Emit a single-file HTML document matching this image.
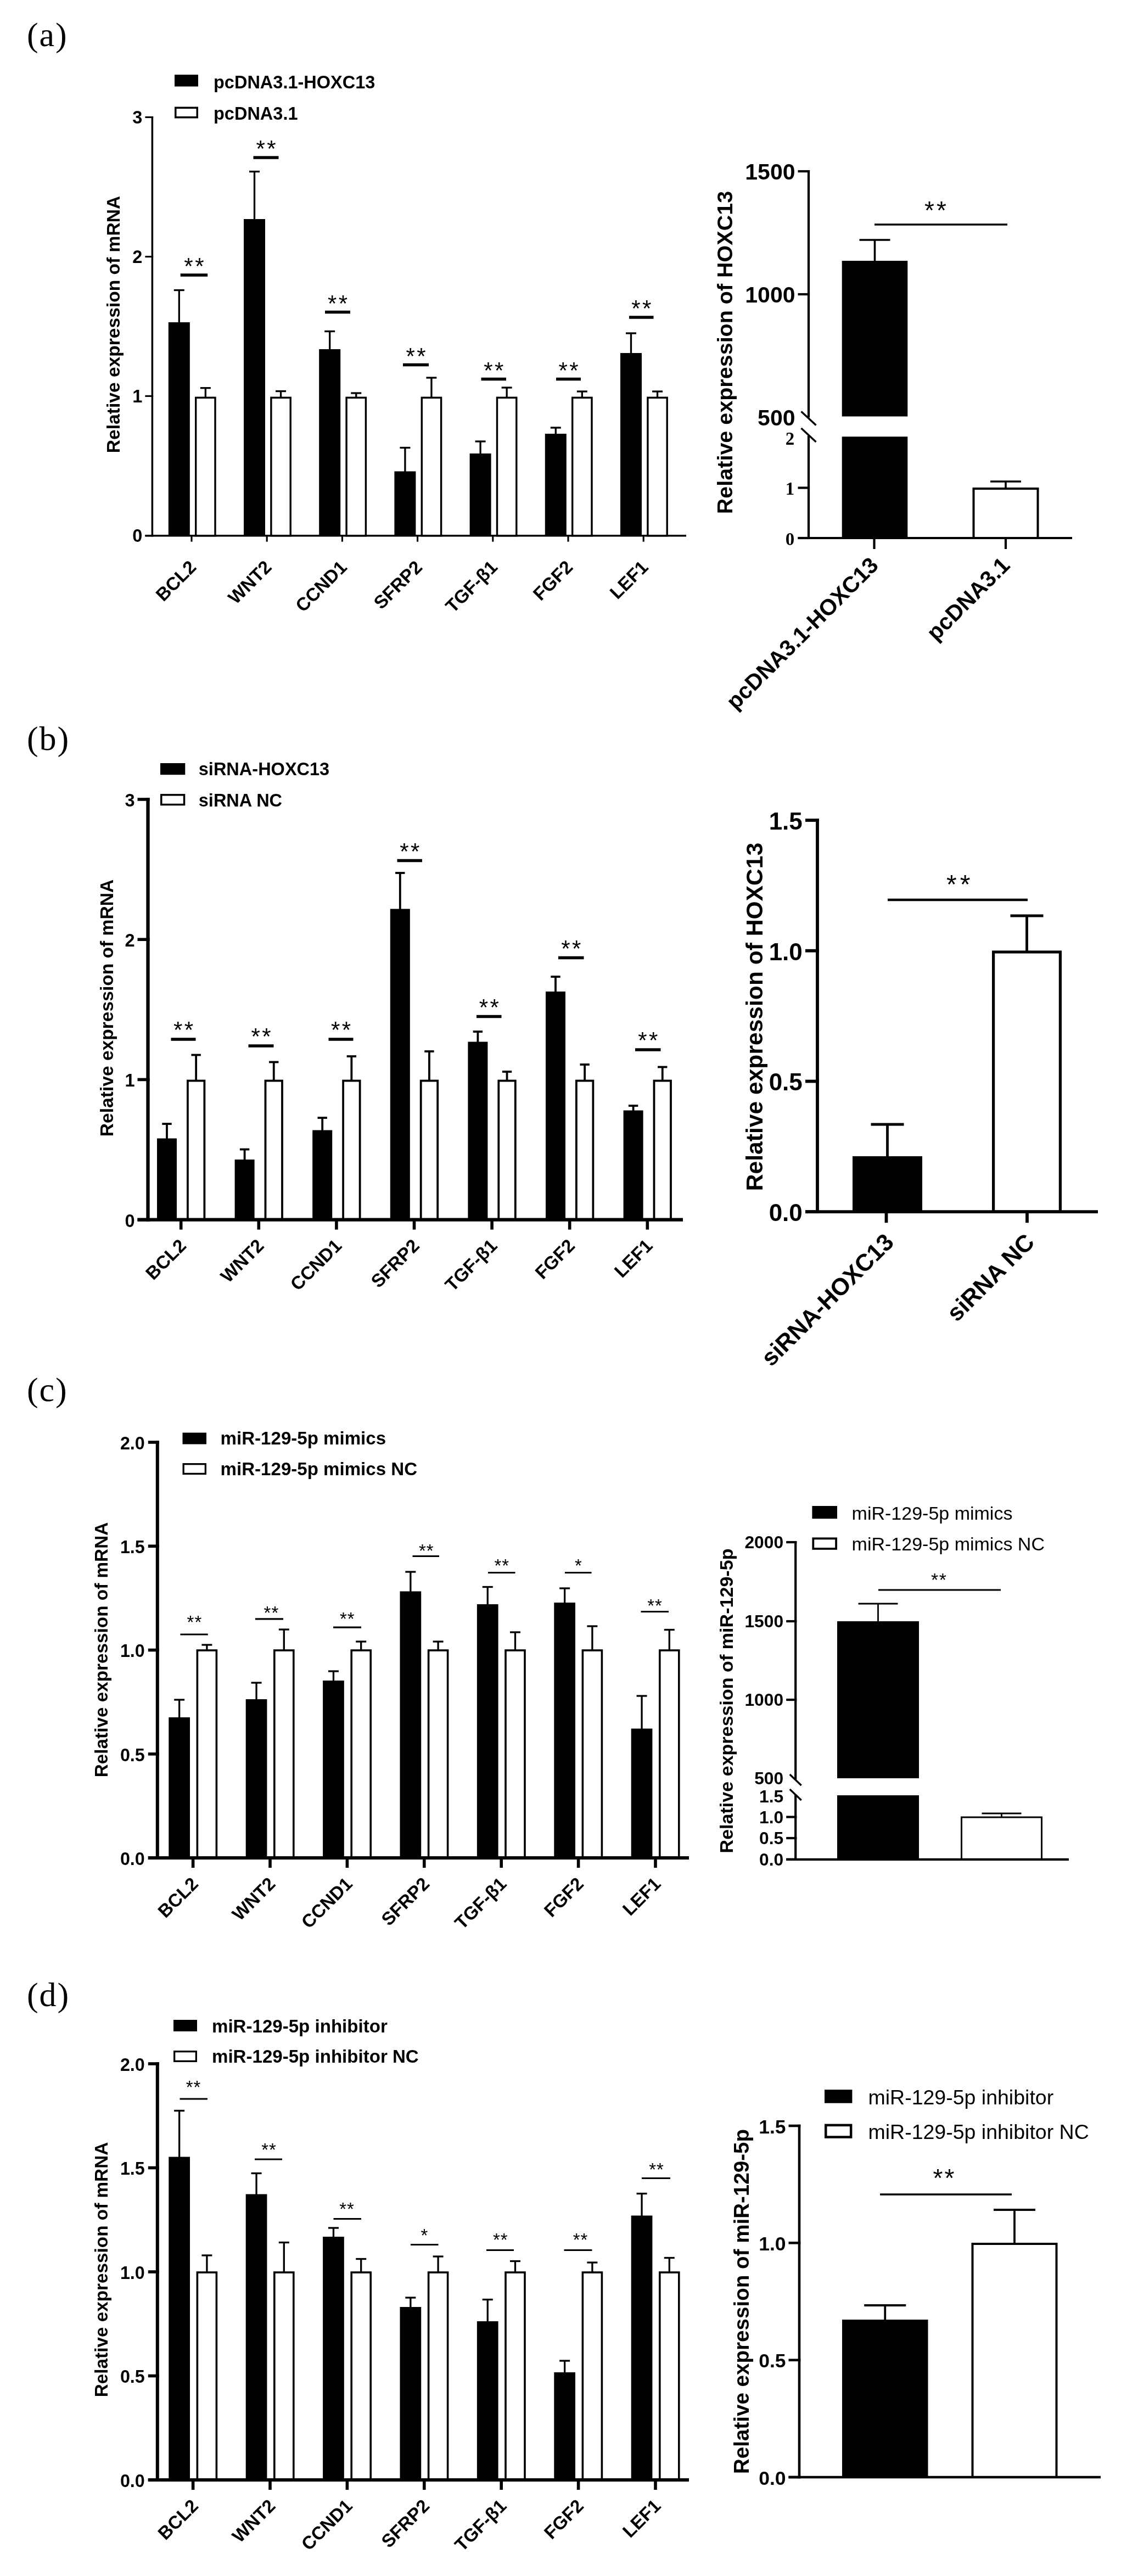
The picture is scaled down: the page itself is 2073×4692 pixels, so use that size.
<!DOCTYPE html>
<html lang="en"><head><meta charset="utf-8"><title>Figure</title>
<style>html,body{margin:0;padding:0;background:#fff}body{width:2073px;height:4692px;overflow:hidden}svg text{fill:#000}</style>
</head><body>
<svg width="2073" height="4692" viewBox="0 0 2073 4692" style="display:block;filter:blur(0.6px)" shape-rendering="geometricPrecision">
<rect width="2073" height="4692" fill="#fff"/>
<text x="49.00" y="84.20" font-family="Liberation Serif, Times New Roman, serif" font-size="62" font-weight="normal" text-anchor="start" letter-spacing="1.9">(a)</text>
<line x1="326.30" y1="528.50" x2="326.30" y2="588.00" stroke="#000" stroke-width="3.3" stroke-linecap="butt"/>
<line x1="316.80" y1="528.50" x2="335.80" y2="528.50" stroke="#000" stroke-width="3.3" stroke-linecap="butt"/>
<line x1="374.35" y1="706.70" x2="374.35" y2="725.30" stroke="#000" stroke-width="3.3" stroke-linecap="butt"/>
<line x1="364.85" y1="706.70" x2="383.85" y2="706.70" stroke="#000" stroke-width="3.3" stroke-linecap="butt"/>
<rect x="306.80" y="587.00" width="39.00" height="388.70" fill="#000"/>
<rect x="356.70" y="724.30" width="35.30" height="251.40" fill="#fff" stroke="#000" stroke-width="3.4"/>
<line x1="463.50" y1="312.50" x2="463.50" y2="400.00" stroke="#000" stroke-width="3.3" stroke-linecap="butt"/>
<line x1="454.00" y1="312.50" x2="473.00" y2="312.50" stroke="#000" stroke-width="3.3" stroke-linecap="butt"/>
<line x1="511.55" y1="712.50" x2="511.55" y2="725.30" stroke="#000" stroke-width="3.3" stroke-linecap="butt"/>
<line x1="502.05" y1="712.50" x2="521.05" y2="712.50" stroke="#000" stroke-width="3.3" stroke-linecap="butt"/>
<rect x="444.00" y="399.00" width="39.00" height="576.70" fill="#000"/>
<rect x="493.90" y="724.30" width="35.30" height="251.40" fill="#fff" stroke="#000" stroke-width="3.4"/>
<line x1="600.70" y1="603.50" x2="600.70" y2="637.00" stroke="#000" stroke-width="3.3" stroke-linecap="butt"/>
<line x1="591.20" y1="603.50" x2="610.20" y2="603.50" stroke="#000" stroke-width="3.3" stroke-linecap="butt"/>
<line x1="648.75" y1="716.00" x2="648.75" y2="725.30" stroke="#000" stroke-width="3.3" stroke-linecap="butt"/>
<line x1="639.25" y1="716.00" x2="658.25" y2="716.00" stroke="#000" stroke-width="3.3" stroke-linecap="butt"/>
<rect x="581.20" y="636.00" width="39.00" height="339.70" fill="#000"/>
<rect x="631.10" y="724.30" width="35.30" height="251.40" fill="#fff" stroke="#000" stroke-width="3.4"/>
<line x1="737.90" y1="815.50" x2="737.90" y2="859.50" stroke="#000" stroke-width="3.3" stroke-linecap="butt"/>
<line x1="728.40" y1="815.50" x2="747.40" y2="815.50" stroke="#000" stroke-width="3.3" stroke-linecap="butt"/>
<line x1="785.95" y1="688.00" x2="785.95" y2="725.30" stroke="#000" stroke-width="3.3" stroke-linecap="butt"/>
<line x1="776.45" y1="688.00" x2="795.45" y2="688.00" stroke="#000" stroke-width="3.3" stroke-linecap="butt"/>
<rect x="718.40" y="858.50" width="39.00" height="117.20" fill="#000"/>
<rect x="768.30" y="724.30" width="35.30" height="251.40" fill="#fff" stroke="#000" stroke-width="3.4"/>
<line x1="875.10" y1="804.00" x2="875.10" y2="827.00" stroke="#000" stroke-width="3.3" stroke-linecap="butt"/>
<line x1="865.60" y1="804.00" x2="884.60" y2="804.00" stroke="#000" stroke-width="3.3" stroke-linecap="butt"/>
<line x1="923.15" y1="706.00" x2="923.15" y2="725.30" stroke="#000" stroke-width="3.3" stroke-linecap="butt"/>
<line x1="913.65" y1="706.00" x2="932.65" y2="706.00" stroke="#000" stroke-width="3.3" stroke-linecap="butt"/>
<rect x="855.60" y="826.00" width="39.00" height="149.70" fill="#000"/>
<rect x="905.50" y="724.30" width="35.30" height="251.40" fill="#fff" stroke="#000" stroke-width="3.4"/>
<line x1="1012.30" y1="779.00" x2="1012.30" y2="791.00" stroke="#000" stroke-width="3.3" stroke-linecap="butt"/>
<line x1="1002.80" y1="779.00" x2="1021.80" y2="779.00" stroke="#000" stroke-width="3.3" stroke-linecap="butt"/>
<line x1="1060.35" y1="713.00" x2="1060.35" y2="725.30" stroke="#000" stroke-width="3.3" stroke-linecap="butt"/>
<line x1="1050.85" y1="713.00" x2="1069.85" y2="713.00" stroke="#000" stroke-width="3.3" stroke-linecap="butt"/>
<rect x="992.80" y="790.00" width="39.00" height="185.70" fill="#000"/>
<rect x="1042.70" y="724.30" width="35.30" height="251.40" fill="#fff" stroke="#000" stroke-width="3.4"/>
<line x1="1149.50" y1="607.00" x2="1149.50" y2="644.00" stroke="#000" stroke-width="3.3" stroke-linecap="butt"/>
<line x1="1140.00" y1="607.00" x2="1159.00" y2="607.00" stroke="#000" stroke-width="3.3" stroke-linecap="butt"/>
<line x1="1197.55" y1="713.00" x2="1197.55" y2="725.30" stroke="#000" stroke-width="3.3" stroke-linecap="butt"/>
<line x1="1188.05" y1="713.00" x2="1207.05" y2="713.00" stroke="#000" stroke-width="3.3" stroke-linecap="butt"/>
<rect x="1130.00" y="643.00" width="39.00" height="332.70" fill="#000"/>
<rect x="1179.90" y="724.30" width="35.30" height="251.40" fill="#fff" stroke="#000" stroke-width="3.4"/>
<line x1="328.70" y1="501.00" x2="378.20" y2="501.00" stroke="#000" stroke-width="5.5" stroke-linecap="butt"/>
<text x="355.20" y="499.05" font-family="Liberation Sans, Arial, Helvetica, sans-serif" font-size="42" font-weight="normal" text-anchor="middle" letter-spacing="3.5">**</text>
<line x1="461.50" y1="287.00" x2="507.50" y2="287.00" stroke="#000" stroke-width="5.5" stroke-linecap="butt"/>
<text x="486.25" y="285.05" font-family="Liberation Sans, Arial, Helvetica, sans-serif" font-size="42" font-weight="normal" text-anchor="middle" letter-spacing="3.5">**</text>
<line x1="592.00" y1="568.50" x2="638.00" y2="568.50" stroke="#000" stroke-width="5.5" stroke-linecap="butt"/>
<text x="616.75" y="566.55" font-family="Liberation Sans, Arial, Helvetica, sans-serif" font-size="42" font-weight="normal" text-anchor="middle" letter-spacing="3.5">**</text>
<line x1="734.00" y1="664.50" x2="781.00" y2="664.50" stroke="#000" stroke-width="5.5" stroke-linecap="butt"/>
<text x="759.25" y="662.55" font-family="Liberation Sans, Arial, Helvetica, sans-serif" font-size="42" font-weight="normal" text-anchor="middle" letter-spacing="3.5">**</text>
<line x1="876.50" y1="690.50" x2="922.00" y2="690.50" stroke="#000" stroke-width="5.5" stroke-linecap="butt"/>
<text x="901.00" y="688.55" font-family="Liberation Sans, Arial, Helvetica, sans-serif" font-size="42" font-weight="normal" text-anchor="middle" letter-spacing="3.5">**</text>
<line x1="1013.00" y1="690.50" x2="1058.00" y2="690.50" stroke="#000" stroke-width="5.5" stroke-linecap="butt"/>
<text x="1037.25" y="688.55" font-family="Liberation Sans, Arial, Helvetica, sans-serif" font-size="42" font-weight="normal" text-anchor="middle" letter-spacing="3.5">**</text>
<line x1="1146.00" y1="578.00" x2="1190.50" y2="578.00" stroke="#000" stroke-width="5.5" stroke-linecap="butt"/>
<text x="1170.00" y="576.05" font-family="Liberation Sans, Arial, Helvetica, sans-serif" font-size="42" font-weight="normal" text-anchor="middle" letter-spacing="3.5">**</text>
<line x1="277.40" y1="211.95" x2="277.40" y2="977.45" stroke="#000" stroke-width="3.5" stroke-linecap="butt"/>
<line x1="264.40" y1="213.50" x2="279.15" y2="213.50" stroke="#000" stroke-width="3.1" stroke-linecap="butt"/>
<text x="259.40" y="225.13" font-family="Liberation Sans, Arial, Helvetica, sans-serif" font-size="32.5" font-weight="bold" text-anchor="end">3</text>
<line x1="264.40" y1="467.50" x2="279.15" y2="467.50" stroke="#000" stroke-width="3.1" stroke-linecap="butt"/>
<text x="259.40" y="479.13" font-family="Liberation Sans, Arial, Helvetica, sans-serif" font-size="32.5" font-weight="bold" text-anchor="end">2</text>
<line x1="264.40" y1="721.40" x2="279.15" y2="721.40" stroke="#000" stroke-width="3.1" stroke-linecap="butt"/>
<text x="259.40" y="733.03" font-family="Liberation Sans, Arial, Helvetica, sans-serif" font-size="32.5" font-weight="bold" text-anchor="end">1</text>
<line x1="264.40" y1="975.70" x2="279.15" y2="975.70" stroke="#000" stroke-width="3.1" stroke-linecap="butt"/>
<text x="259.40" y="987.34" font-family="Liberation Sans, Arial, Helvetica, sans-serif" font-size="32.5" font-weight="bold" text-anchor="end">0</text>
<line x1="264.40" y1="975.70" x2="1250.00" y2="975.70" stroke="#000" stroke-width="3.5" stroke-linecap="butt"/>
<line x1="349.00" y1="975.70" x2="349.00" y2="986.70" stroke="#000" stroke-width="3.1" stroke-linecap="butt"/>
<line x1="486.20" y1="975.70" x2="486.20" y2="986.70" stroke="#000" stroke-width="3.1" stroke-linecap="butt"/>
<line x1="623.40" y1="975.70" x2="623.40" y2="986.70" stroke="#000" stroke-width="3.1" stroke-linecap="butt"/>
<line x1="760.60" y1="975.70" x2="760.60" y2="986.70" stroke="#000" stroke-width="3.1" stroke-linecap="butt"/>
<line x1="897.80" y1="975.70" x2="897.80" y2="986.70" stroke="#000" stroke-width="3.1" stroke-linecap="butt"/>
<line x1="1035.00" y1="975.70" x2="1035.00" y2="986.70" stroke="#000" stroke-width="3.1" stroke-linecap="butt"/>
<line x1="1172.20" y1="975.70" x2="1172.20" y2="986.70" stroke="#000" stroke-width="3.1" stroke-linecap="butt"/>
<text x="359.50" y="1035.20" font-family="Liberation Sans, Arial, Helvetica, sans-serif" font-size="33.5" font-weight="bold" text-anchor="end" transform="rotate(-45 359.50 1035.20)">BCL2</text>
<text x="496.70" y="1035.20" font-family="Liberation Sans, Arial, Helvetica, sans-serif" font-size="33.5" font-weight="bold" text-anchor="end" transform="rotate(-45 496.70 1035.20)">WNT2</text>
<text x="633.90" y="1035.20" font-family="Liberation Sans, Arial, Helvetica, sans-serif" font-size="33.5" font-weight="bold" text-anchor="end" transform="rotate(-45 633.90 1035.20)">CCND1</text>
<text x="771.10" y="1035.20" font-family="Liberation Sans, Arial, Helvetica, sans-serif" font-size="33.5" font-weight="bold" text-anchor="end" transform="rotate(-45 771.10 1035.20)">SFRP2</text>
<text x="908.30" y="1035.20" font-family="Liberation Sans, Arial, Helvetica, sans-serif" font-size="33.5" font-weight="bold" text-anchor="end" transform="rotate(-45 908.30 1035.20)">TGF-β1</text>
<text x="1045.50" y="1035.20" font-family="Liberation Sans, Arial, Helvetica, sans-serif" font-size="33.5" font-weight="bold" text-anchor="end" transform="rotate(-45 1045.50 1035.20)">FGF2</text>
<text x="1182.70" y="1035.20" font-family="Liberation Sans, Arial, Helvetica, sans-serif" font-size="33.5" font-weight="bold" text-anchor="end" transform="rotate(-45 1182.70 1035.20)">LEF1</text>
<rect x="318.00" y="136.00" width="43.00" height="21.50" fill="#000"/>
<text x="389.00" y="160.50" font-family="Liberation Sans, Arial, Helvetica, sans-serif" font-size="32.5" font-weight="bold" text-anchor="start">pcDNA3.1-HOXC13</text>
<rect x="319.75" y="196.25" width="39.50" height="17.50" fill="#fff" stroke="#000" stroke-width="3.5"/>
<text x="389.00" y="218.00" font-family="Liberation Sans, Arial, Helvetica, sans-serif" font-size="32.5" font-weight="bold" text-anchor="start">pcDNA3.1</text>
<text x="218.40" y="591.00" font-family="Liberation Sans, Arial, Helvetica, sans-serif" font-size="33.6" font-weight="bold" text-anchor="middle" transform="rotate(-90 218.40 591.00)">Relative expression of mRNA</text>
<line x1="1593.50" y1="437.00" x2="1593.50" y2="476.00" stroke="#000" stroke-width="3.6" stroke-linecap="butt"/>
<line x1="1565.50" y1="437.00" x2="1621.50" y2="437.00" stroke="#000" stroke-width="3.6" stroke-linecap="butt"/>
<line x1="1832.00" y1="877.00" x2="1832.00" y2="891.00" stroke="#000" stroke-width="3.6" stroke-linecap="butt"/>
<line x1="1804.00" y1="877.00" x2="1860.00" y2="877.00" stroke="#000" stroke-width="3.6" stroke-linecap="butt"/>
<rect x="1533.70" y="475.00" width="119.60" height="505.00" fill="#000"/>
<rect x="1773.50" y="890.00" width="117.00" height="90.00" fill="#fff" stroke="#000" stroke-width="4"/>
<line x1="1593.00" y1="409.00" x2="1835.00" y2="409.00" stroke="#000" stroke-width="3.6" stroke-linecap="butt"/>
<text x="1706.00" y="398.90" font-family="Liberation Sans, Arial, Helvetica, sans-serif" font-size="46" font-weight="normal" text-anchor="middle" letter-spacing="4">**</text>
<rect x="1532.70" y="758.50" width="121.60" height="36.80" fill="#fff"/>
<line x1="1473.00" y1="309.90" x2="1473.00" y2="760.50" stroke="#000" stroke-width="4.2" stroke-linecap="butt"/>
<line x1="1473.00" y1="793.30" x2="1473.00" y2="982.10" stroke="#000" stroke-width="4.2" stroke-linecap="butt"/>
<line x1="1459.50" y1="749.50" x2="1486.50" y2="774.50" stroke="#000" stroke-width="3.4" stroke-linecap="butt"/>
<line x1="1459.50" y1="780.00" x2="1486.50" y2="805.00" stroke="#000" stroke-width="3.4" stroke-linecap="butt"/>
<line x1="1453.50" y1="312.00" x2="1475.10" y2="312.00" stroke="#000" stroke-width="4.2" stroke-linecap="butt"/>
<text x="1448.50" y="326.68" font-family="Liberation Sans, Arial, Helvetica, sans-serif" font-size="41" font-weight="bold" text-anchor="end">1500</text>
<line x1="1453.50" y1="536.00" x2="1475.10" y2="536.00" stroke="#000" stroke-width="4.2" stroke-linecap="butt"/>
<text x="1448.50" y="550.68" font-family="Liberation Sans, Arial, Helvetica, sans-serif" font-size="41" font-weight="bold" text-anchor="end">1000</text>
<text x="1448.50" y="774.68" font-family="Liberation Sans, Arial, Helvetica, sans-serif" font-size="41" font-weight="bold" text-anchor="end">500</text>
<text x="1447.20" y="809.54" font-family="Liberation Serif, Times New Roman, serif" font-size="33" font-weight="bold" text-anchor="end">2</text>
<line x1="1453.50" y1="888.50" x2="1475.10" y2="888.50" stroke="#000" stroke-width="4.2" stroke-linecap="butt"/>
<text x="1447.20" y="901.04" font-family="Liberation Serif, Times New Roman, serif" font-size="33" font-weight="bold" text-anchor="end">1</text>
<line x1="1453.50" y1="980.00" x2="1475.10" y2="980.00" stroke="#000" stroke-width="4.2" stroke-linecap="butt"/>
<text x="1447.20" y="992.54" font-family="Liberation Serif, Times New Roman, serif" font-size="33" font-weight="bold" text-anchor="end">0</text>
<line x1="1453.50" y1="980.00" x2="1953.00" y2="980.00" stroke="#000" stroke-width="4.2" stroke-linecap="butt"/>
<line x1="1592.50" y1="980.00" x2="1592.50" y2="1000.00" stroke="#000" stroke-width="4.2" stroke-linecap="butt"/>
<line x1="1832.00" y1="980.00" x2="1832.00" y2="1000.00" stroke="#000" stroke-width="4.2" stroke-linecap="butt"/>
<text x="1602.50" y="1032.00" font-family="Liberation Sans, Arial, Helvetica, sans-serif" font-size="41" font-weight="bold" text-anchor="end" transform="rotate(-45 1602.50 1032.00)">pcDNA3.1-HOXC13</text>
<text x="1842.00" y="1032.00" font-family="Liberation Sans, Arial, Helvetica, sans-serif" font-size="41" font-weight="bold" text-anchor="end" transform="rotate(-45 1842.00 1032.00)">pcDNA3.1</text>
<text x="1334.38" y="642.00" font-family="Liberation Sans, Arial, Helvetica, sans-serif" font-size="39.5" font-weight="bold" text-anchor="middle" transform="rotate(-90 1334.38 642.00)">Relative expression of HOXC13</text>
<text x="49.00" y="1365.50" font-family="Liberation Serif, Times New Roman, serif" font-size="62" font-weight="normal" text-anchor="start" letter-spacing="1.9">(b)</text>
<line x1="304.00" y1="2047.00" x2="304.00" y2="2074.50" stroke="#000" stroke-width="3.8" stroke-linecap="butt"/>
<line x1="295.30" y1="2047.00" x2="312.70" y2="2047.00" stroke="#000" stroke-width="3.8" stroke-linecap="butt"/>
<line x1="357.15" y1="1921.50" x2="357.15" y2="1969.50" stroke="#000" stroke-width="3.8" stroke-linecap="butt"/>
<line x1="348.45" y1="1921.50" x2="365.85" y2="1921.50" stroke="#000" stroke-width="3.8" stroke-linecap="butt"/>
<rect x="286.00" y="2073.50" width="36.00" height="148.10" fill="#000"/>
<rect x="341.90" y="1968.50" width="30.50" height="253.10" fill="#fff" stroke="#000" stroke-width="3.8"/>
<line x1="445.60" y1="2093.50" x2="445.60" y2="2113.00" stroke="#000" stroke-width="3.8" stroke-linecap="butt"/>
<line x1="436.90" y1="2093.50" x2="454.30" y2="2093.50" stroke="#000" stroke-width="3.8" stroke-linecap="butt"/>
<line x1="498.75" y1="1934.50" x2="498.75" y2="1969.50" stroke="#000" stroke-width="3.8" stroke-linecap="butt"/>
<line x1="490.05" y1="1934.50" x2="507.45" y2="1934.50" stroke="#000" stroke-width="3.8" stroke-linecap="butt"/>
<rect x="427.60" y="2112.00" width="36.00" height="109.60" fill="#000"/>
<rect x="483.50" y="1968.50" width="30.50" height="253.10" fill="#fff" stroke="#000" stroke-width="3.8"/>
<line x1="587.20" y1="2036.00" x2="587.20" y2="2059.50" stroke="#000" stroke-width="3.8" stroke-linecap="butt"/>
<line x1="578.50" y1="2036.00" x2="595.90" y2="2036.00" stroke="#000" stroke-width="3.8" stroke-linecap="butt"/>
<line x1="640.35" y1="1924.00" x2="640.35" y2="1969.50" stroke="#000" stroke-width="3.8" stroke-linecap="butt"/>
<line x1="631.65" y1="1924.00" x2="649.05" y2="1924.00" stroke="#000" stroke-width="3.8" stroke-linecap="butt"/>
<rect x="569.20" y="2058.50" width="36.00" height="163.10" fill="#000"/>
<rect x="625.10" y="1968.50" width="30.50" height="253.10" fill="#fff" stroke="#000" stroke-width="3.8"/>
<line x1="728.80" y1="1590.00" x2="728.80" y2="1656.50" stroke="#000" stroke-width="3.8" stroke-linecap="butt"/>
<line x1="720.10" y1="1590.00" x2="737.50" y2="1590.00" stroke="#000" stroke-width="3.8" stroke-linecap="butt"/>
<line x1="781.95" y1="1915.00" x2="781.95" y2="1969.50" stroke="#000" stroke-width="3.8" stroke-linecap="butt"/>
<line x1="773.25" y1="1915.00" x2="790.65" y2="1915.00" stroke="#000" stroke-width="3.8" stroke-linecap="butt"/>
<rect x="710.80" y="1655.50" width="36.00" height="566.10" fill="#000"/>
<rect x="766.70" y="1968.50" width="30.50" height="253.10" fill="#fff" stroke="#000" stroke-width="3.8"/>
<line x1="870.40" y1="1879.00" x2="870.40" y2="1898.50" stroke="#000" stroke-width="3.8" stroke-linecap="butt"/>
<line x1="861.70" y1="1879.00" x2="879.10" y2="1879.00" stroke="#000" stroke-width="3.8" stroke-linecap="butt"/>
<line x1="923.55" y1="1952.00" x2="923.55" y2="1969.50" stroke="#000" stroke-width="3.8" stroke-linecap="butt"/>
<line x1="914.85" y1="1952.00" x2="932.25" y2="1952.00" stroke="#000" stroke-width="3.8" stroke-linecap="butt"/>
<rect x="852.40" y="1897.50" width="36.00" height="324.10" fill="#000"/>
<rect x="908.30" y="1968.50" width="30.50" height="253.10" fill="#fff" stroke="#000" stroke-width="3.8"/>
<line x1="1012.00" y1="1779.00" x2="1012.00" y2="1807.00" stroke="#000" stroke-width="3.8" stroke-linecap="butt"/>
<line x1="1003.30" y1="1779.00" x2="1020.70" y2="1779.00" stroke="#000" stroke-width="3.8" stroke-linecap="butt"/>
<line x1="1065.15" y1="1939.00" x2="1065.15" y2="1969.50" stroke="#000" stroke-width="3.8" stroke-linecap="butt"/>
<line x1="1056.45" y1="1939.00" x2="1073.85" y2="1939.00" stroke="#000" stroke-width="3.8" stroke-linecap="butt"/>
<rect x="994.00" y="1806.00" width="36.00" height="415.60" fill="#000"/>
<rect x="1049.90" y="1968.50" width="30.50" height="253.10" fill="#fff" stroke="#000" stroke-width="3.8"/>
<line x1="1153.60" y1="2014.00" x2="1153.60" y2="2023.50" stroke="#000" stroke-width="3.8" stroke-linecap="butt"/>
<line x1="1144.90" y1="2014.00" x2="1162.30" y2="2014.00" stroke="#000" stroke-width="3.8" stroke-linecap="butt"/>
<line x1="1206.75" y1="1943.50" x2="1206.75" y2="1969.50" stroke="#000" stroke-width="3.8" stroke-linecap="butt"/>
<line x1="1198.05" y1="1943.50" x2="1215.45" y2="1943.50" stroke="#000" stroke-width="3.8" stroke-linecap="butt"/>
<rect x="1135.60" y="2022.50" width="36.00" height="199.10" fill="#000"/>
<rect x="1191.50" y="1968.50" width="30.50" height="253.10" fill="#fff" stroke="#000" stroke-width="3.8"/>
<line x1="311.50" y1="1893.00" x2="356.50" y2="1893.00" stroke="#000" stroke-width="5.5" stroke-linecap="butt"/>
<text x="335.75" y="1890.05" font-family="Liberation Sans, Arial, Helvetica, sans-serif" font-size="42" font-weight="normal" text-anchor="middle" letter-spacing="3.5">**</text>
<line x1="452.50" y1="1905.00" x2="498.50" y2="1905.00" stroke="#000" stroke-width="5.5" stroke-linecap="butt"/>
<text x="477.25" y="1902.05" font-family="Liberation Sans, Arial, Helvetica, sans-serif" font-size="42" font-weight="normal" text-anchor="middle" letter-spacing="3.5">**</text>
<line x1="598.50" y1="1893.00" x2="643.50" y2="1893.00" stroke="#000" stroke-width="5.5" stroke-linecap="butt"/>
<text x="622.75" y="1890.05" font-family="Liberation Sans, Arial, Helvetica, sans-serif" font-size="42" font-weight="normal" text-anchor="middle" letter-spacing="3.5">**</text>
<line x1="723.50" y1="1567.50" x2="769.00" y2="1567.50" stroke="#000" stroke-width="5.5" stroke-linecap="butt"/>
<text x="748.00" y="1564.55" font-family="Liberation Sans, Arial, Helvetica, sans-serif" font-size="42" font-weight="normal" text-anchor="middle" letter-spacing="3.5">**</text>
<line x1="868.00" y1="1851.50" x2="913.50" y2="1851.50" stroke="#000" stroke-width="5.5" stroke-linecap="butt"/>
<text x="892.50" y="1848.55" font-family="Liberation Sans, Arial, Helvetica, sans-serif" font-size="42" font-weight="normal" text-anchor="middle" letter-spacing="3.5">**</text>
<line x1="1017.00" y1="1744.50" x2="1063.50" y2="1744.50" stroke="#000" stroke-width="5.5" stroke-linecap="butt"/>
<text x="1042.00" y="1741.55" font-family="Liberation Sans, Arial, Helvetica, sans-serif" font-size="42" font-weight="normal" text-anchor="middle" letter-spacing="3.5">**</text>
<line x1="1157.00" y1="1912.00" x2="1203.50" y2="1912.00" stroke="#000" stroke-width="5.5" stroke-linecap="butt"/>
<text x="1182.00" y="1909.05" font-family="Liberation Sans, Arial, Helvetica, sans-serif" font-size="42" font-weight="normal" text-anchor="middle" letter-spacing="3.5">**</text>
<line x1="269.50" y1="1453.20" x2="269.50" y2="2224.75" stroke="#000" stroke-width="6.3" stroke-linecap="butt"/>
<line x1="250.50" y1="1456.00" x2="272.65" y2="1456.00" stroke="#000" stroke-width="5.6" stroke-linecap="butt"/>
<text x="245.50" y="1469.00" font-family="Liberation Sans, Arial, Helvetica, sans-serif" font-size="32.5" font-weight="bold" text-anchor="end">3</text>
<line x1="250.50" y1="1711.20" x2="272.65" y2="1711.20" stroke="#000" stroke-width="5.6" stroke-linecap="butt"/>
<text x="245.50" y="1724.20" font-family="Liberation Sans, Arial, Helvetica, sans-serif" font-size="32.5" font-weight="bold" text-anchor="end">2</text>
<line x1="250.50" y1="1966.40" x2="272.65" y2="1966.40" stroke="#000" stroke-width="5.6" stroke-linecap="butt"/>
<text x="245.50" y="1979.40" font-family="Liberation Sans, Arial, Helvetica, sans-serif" font-size="32.5" font-weight="bold" text-anchor="end">1</text>
<line x1="250.50" y1="2221.60" x2="272.65" y2="2221.60" stroke="#000" stroke-width="5.6" stroke-linecap="butt"/>
<text x="245.50" y="2234.60" font-family="Liberation Sans, Arial, Helvetica, sans-serif" font-size="32.5" font-weight="bold" text-anchor="end">0</text>
<line x1="250.50" y1="2221.60" x2="1244.00" y2="2221.60" stroke="#000" stroke-width="6.3" stroke-linecap="butt"/>
<line x1="329.70" y1="2221.60" x2="329.70" y2="2239.60" stroke="#000" stroke-width="5.6" stroke-linecap="butt"/>
<line x1="471.30" y1="2221.60" x2="471.30" y2="2239.60" stroke="#000" stroke-width="5.6" stroke-linecap="butt"/>
<line x1="612.90" y1="2221.60" x2="612.90" y2="2239.60" stroke="#000" stroke-width="5.6" stroke-linecap="butt"/>
<line x1="754.50" y1="2221.60" x2="754.50" y2="2239.60" stroke="#000" stroke-width="5.6" stroke-linecap="butt"/>
<line x1="896.10" y1="2221.60" x2="896.10" y2="2239.60" stroke="#000" stroke-width="5.6" stroke-linecap="butt"/>
<line x1="1037.70" y1="2221.60" x2="1037.70" y2="2239.60" stroke="#000" stroke-width="5.6" stroke-linecap="butt"/>
<line x1="1179.30" y1="2221.60" x2="1179.30" y2="2239.60" stroke="#000" stroke-width="5.6" stroke-linecap="butt"/>
<text x="341.20" y="2271.10" font-family="Liberation Sans, Arial, Helvetica, sans-serif" font-size="33.5" font-weight="bold" text-anchor="end" transform="rotate(-45 341.20 2271.10)">BCL2</text>
<text x="482.80" y="2271.10" font-family="Liberation Sans, Arial, Helvetica, sans-serif" font-size="33.5" font-weight="bold" text-anchor="end" transform="rotate(-45 482.80 2271.10)">WNT2</text>
<text x="624.40" y="2271.10" font-family="Liberation Sans, Arial, Helvetica, sans-serif" font-size="33.5" font-weight="bold" text-anchor="end" transform="rotate(-45 624.40 2271.10)">CCND1</text>
<text x="766.00" y="2271.10" font-family="Liberation Sans, Arial, Helvetica, sans-serif" font-size="33.5" font-weight="bold" text-anchor="end" transform="rotate(-45 766.00 2271.10)">SFRP2</text>
<text x="907.60" y="2271.10" font-family="Liberation Sans, Arial, Helvetica, sans-serif" font-size="33.5" font-weight="bold" text-anchor="end" transform="rotate(-45 907.60 2271.10)">TGF-β1</text>
<text x="1049.20" y="2271.10" font-family="Liberation Sans, Arial, Helvetica, sans-serif" font-size="33.5" font-weight="bold" text-anchor="end" transform="rotate(-45 1049.20 2271.10)">FGF2</text>
<text x="1190.80" y="2271.10" font-family="Liberation Sans, Arial, Helvetica, sans-serif" font-size="33.5" font-weight="bold" text-anchor="end" transform="rotate(-45 1190.80 2271.10)">LEF1</text>
<rect x="292.00" y="1390.00" width="45.30" height="21.20" fill="#000"/>
<text x="361.80" y="1412.40" font-family="Liberation Sans, Arial, Helvetica, sans-serif" font-size="32.5" font-weight="bold" text-anchor="start">siRNA-HOXC13</text>
<rect x="293.75" y="1447.85" width="41.80" height="17.70" fill="#fff" stroke="#000" stroke-width="3.5"/>
<text x="361.80" y="1468.60" font-family="Liberation Sans, Arial, Helvetica, sans-serif" font-size="32.5" font-weight="bold" text-anchor="start">siRNA NC</text>
<text x="206.40" y="1836.00" font-family="Liberation Sans, Arial, Helvetica, sans-serif" font-size="33.6" font-weight="bold" text-anchor="middle" transform="rotate(-90 206.40 1836.00)">Relative expression of mRNA</text>
<line x1="1616.50" y1="2048.00" x2="1616.50" y2="2107.00" stroke="#000" stroke-width="4.8" stroke-linecap="butt"/>
<line x1="1586.50" y1="2048.00" x2="1646.50" y2="2048.00" stroke="#000" stroke-width="4.8" stroke-linecap="butt"/>
<line x1="1870.50" y1="1668.00" x2="1870.50" y2="1735.00" stroke="#000" stroke-width="4.8" stroke-linecap="butt"/>
<line x1="1840.50" y1="1668.00" x2="1900.50" y2="1668.00" stroke="#000" stroke-width="4.8" stroke-linecap="butt"/>
<rect x="1553.00" y="2106.00" width="127.00" height="101.20" fill="#000"/>
<rect x="1809.60" y="1734.00" width="121.80" height="473.20" fill="#fff" stroke="#000" stroke-width="5.2"/>
<line x1="1617.00" y1="1639.00" x2="1872.00" y2="1639.00" stroke="#000" stroke-width="4.6" stroke-linecap="butt"/>
<text x="1748.80" y="1626.62" font-family="Liberation Sans, Arial, Helvetica, sans-serif" font-size="48" font-weight="normal" text-anchor="middle" letter-spacing="6">**</text>
<line x1="1489.00" y1="1491.10" x2="1489.00" y2="2210.10" stroke="#000" stroke-width="5.8" stroke-linecap="butt"/>
<line x1="1467.00" y1="1494.00" x2="1491.90" y2="1494.00" stroke="#000" stroke-width="5.8" stroke-linecap="butt"/>
<text x="1461.80" y="1510.94" font-family="Liberation Sans, Arial, Helvetica, sans-serif" font-size="44" font-weight="bold" text-anchor="end">1.5</text>
<line x1="1467.00" y1="1731.70" x2="1491.90" y2="1731.70" stroke="#000" stroke-width="5.8" stroke-linecap="butt"/>
<text x="1461.80" y="1748.64" font-family="Liberation Sans, Arial, Helvetica, sans-serif" font-size="44" font-weight="bold" text-anchor="end">1.0</text>
<line x1="1467.00" y1="1969.50" x2="1491.90" y2="1969.50" stroke="#000" stroke-width="5.8" stroke-linecap="butt"/>
<text x="1461.80" y="1986.44" font-family="Liberation Sans, Arial, Helvetica, sans-serif" font-size="44" font-weight="bold" text-anchor="end">0.5</text>
<line x1="1467.00" y1="2207.20" x2="1491.90" y2="2207.20" stroke="#000" stroke-width="5.8" stroke-linecap="butt"/>
<text x="1461.80" y="2224.14" font-family="Liberation Sans, Arial, Helvetica, sans-serif" font-size="44" font-weight="bold" text-anchor="end">0.0</text>
<line x1="1467.00" y1="2207.20" x2="2000.00" y2="2207.20" stroke="#000" stroke-width="5.8" stroke-linecap="butt"/>
<line x1="1614.50" y1="2207.20" x2="1614.50" y2="2227.20" stroke="#000" stroke-width="5.8" stroke-linecap="butt"/>
<line x1="1871.00" y1="2207.20" x2="1871.00" y2="2227.20" stroke="#000" stroke-width="5.8" stroke-linecap="butt"/>
<text x="1630.50" y="2265.20" font-family="Liberation Sans, Arial, Helvetica, sans-serif" font-size="43.5" font-weight="bold" text-anchor="end" transform="rotate(-45 1630.50 2265.20)">siRNA-HOXC13</text>
<text x="1887.00" y="2265.20" font-family="Liberation Sans, Arial, Helvetica, sans-serif" font-size="43.5" font-weight="bold" text-anchor="end" transform="rotate(-45 1887.00 2265.20)">siRNA NC</text>
<text x="1388.65" y="1852.00" font-family="Liberation Sans, Arial, Helvetica, sans-serif" font-size="42.6" font-weight="bold" text-anchor="middle" transform="rotate(-90 1388.65 1852.00)">Relative expression of HOXC13</text>
<text x="49.00" y="2551.50" font-family="Liberation Serif, Times New Roman, serif" font-size="62" font-weight="normal" text-anchor="start" letter-spacing="1.9">(c)</text>
<line x1="326.65" y1="3096.00" x2="326.65" y2="3129.00" stroke="#000" stroke-width="3.3" stroke-linecap="butt"/>
<line x1="317.15" y1="3096.00" x2="336.15" y2="3096.00" stroke="#000" stroke-width="3.3" stroke-linecap="butt"/>
<line x1="376.90" y1="2996.00" x2="376.90" y2="3007.00" stroke="#000" stroke-width="3.3" stroke-linecap="butt"/>
<line x1="367.40" y1="2996.00" x2="386.40" y2="2996.00" stroke="#000" stroke-width="3.3" stroke-linecap="butt"/>
<rect x="307.30" y="3128.00" width="38.70" height="256.00" fill="#000"/>
<rect x="359.40" y="3006.00" width="35.00" height="378.00" fill="#fff" stroke="#000" stroke-width="3.6"/>
<line x1="467.05" y1="3065.00" x2="467.05" y2="3096.00" stroke="#000" stroke-width="3.3" stroke-linecap="butt"/>
<line x1="457.55" y1="3065.00" x2="476.55" y2="3065.00" stroke="#000" stroke-width="3.3" stroke-linecap="butt"/>
<line x1="517.30" y1="2968.00" x2="517.30" y2="3007.00" stroke="#000" stroke-width="3.3" stroke-linecap="butt"/>
<line x1="507.80" y1="2968.00" x2="526.80" y2="2968.00" stroke="#000" stroke-width="3.3" stroke-linecap="butt"/>
<rect x="447.70" y="3095.00" width="38.70" height="289.00" fill="#000"/>
<rect x="499.80" y="3006.00" width="35.00" height="378.00" fill="#fff" stroke="#000" stroke-width="3.6"/>
<line x1="607.45" y1="3044.00" x2="607.45" y2="3062.00" stroke="#000" stroke-width="3.3" stroke-linecap="butt"/>
<line x1="597.95" y1="3044.00" x2="616.95" y2="3044.00" stroke="#000" stroke-width="3.3" stroke-linecap="butt"/>
<line x1="657.70" y1="2990.00" x2="657.70" y2="3007.00" stroke="#000" stroke-width="3.3" stroke-linecap="butt"/>
<line x1="648.20" y1="2990.00" x2="667.20" y2="2990.00" stroke="#000" stroke-width="3.3" stroke-linecap="butt"/>
<rect x="588.10" y="3061.00" width="38.70" height="323.00" fill="#000"/>
<rect x="640.20" y="3006.00" width="35.00" height="378.00" fill="#fff" stroke="#000" stroke-width="3.6"/>
<line x1="747.85" y1="2863.00" x2="747.85" y2="2899.50" stroke="#000" stroke-width="3.3" stroke-linecap="butt"/>
<line x1="738.35" y1="2863.00" x2="757.35" y2="2863.00" stroke="#000" stroke-width="3.3" stroke-linecap="butt"/>
<line x1="798.10" y1="2990.00" x2="798.10" y2="3007.00" stroke="#000" stroke-width="3.3" stroke-linecap="butt"/>
<line x1="788.60" y1="2990.00" x2="807.60" y2="2990.00" stroke="#000" stroke-width="3.3" stroke-linecap="butt"/>
<rect x="728.50" y="2898.50" width="38.70" height="485.50" fill="#000"/>
<rect x="780.60" y="3006.00" width="35.00" height="378.00" fill="#fff" stroke="#000" stroke-width="3.6"/>
<line x1="888.25" y1="2890.50" x2="888.25" y2="2923.00" stroke="#000" stroke-width="3.3" stroke-linecap="butt"/>
<line x1="878.75" y1="2890.50" x2="897.75" y2="2890.50" stroke="#000" stroke-width="3.3" stroke-linecap="butt"/>
<line x1="938.50" y1="2973.00" x2="938.50" y2="3007.00" stroke="#000" stroke-width="3.3" stroke-linecap="butt"/>
<line x1="929.00" y1="2973.00" x2="948.00" y2="2973.00" stroke="#000" stroke-width="3.3" stroke-linecap="butt"/>
<rect x="868.90" y="2922.00" width="38.70" height="462.00" fill="#000"/>
<rect x="921.00" y="3006.00" width="35.00" height="378.00" fill="#fff" stroke="#000" stroke-width="3.6"/>
<line x1="1028.65" y1="2893.00" x2="1028.65" y2="2920.00" stroke="#000" stroke-width="3.3" stroke-linecap="butt"/>
<line x1="1019.15" y1="2893.00" x2="1038.15" y2="2893.00" stroke="#000" stroke-width="3.3" stroke-linecap="butt"/>
<line x1="1078.90" y1="2962.00" x2="1078.90" y2="3007.00" stroke="#000" stroke-width="3.3" stroke-linecap="butt"/>
<line x1="1069.40" y1="2962.00" x2="1088.40" y2="2962.00" stroke="#000" stroke-width="3.3" stroke-linecap="butt"/>
<rect x="1009.30" y="2919.00" width="38.70" height="465.00" fill="#000"/>
<rect x="1061.40" y="3006.00" width="35.00" height="378.00" fill="#fff" stroke="#000" stroke-width="3.6"/>
<line x1="1169.05" y1="3089.00" x2="1169.05" y2="3149.50" stroke="#000" stroke-width="3.3" stroke-linecap="butt"/>
<line x1="1159.55" y1="3089.00" x2="1178.55" y2="3089.00" stroke="#000" stroke-width="3.3" stroke-linecap="butt"/>
<line x1="1219.30" y1="2968.50" x2="1219.30" y2="3007.00" stroke="#000" stroke-width="3.3" stroke-linecap="butt"/>
<line x1="1209.80" y1="2968.50" x2="1228.80" y2="2968.50" stroke="#000" stroke-width="3.3" stroke-linecap="butt"/>
<rect x="1149.70" y="3148.50" width="38.70" height="235.50" fill="#000"/>
<rect x="1201.80" y="3006.00" width="35.00" height="378.00" fill="#fff" stroke="#000" stroke-width="3.6"/>
<line x1="328.40" y1="2977.00" x2="378.80" y2="2977.00" stroke="#000" stroke-width="3.2" stroke-linecap="butt"/>
<text x="354.40" y="2965.73" font-family="Liberation Sans, Arial, Helvetica, sans-serif" font-size="33" font-weight="normal" text-anchor="middle" letter-spacing="1">**</text>
<line x1="464.90" y1="2948.80" x2="516.00" y2="2948.80" stroke="#000" stroke-width="3.2" stroke-linecap="butt"/>
<text x="494.40" y="2949.03" font-family="Liberation Sans, Arial, Helvetica, sans-serif" font-size="33" font-weight="normal" text-anchor="middle" letter-spacing="1">**</text>
<line x1="607.00" y1="2964.10" x2="658.00" y2="2964.10" stroke="#000" stroke-width="3.2" stroke-linecap="butt"/>
<text x="632.80" y="2959.53" font-family="Liberation Sans, Arial, Helvetica, sans-serif" font-size="33" font-weight="normal" text-anchor="middle" letter-spacing="1">**</text>
<line x1="751.50" y1="2834.50" x2="800.00" y2="2834.50" stroke="#000" stroke-width="3.2" stroke-linecap="butt"/>
<text x="776.80" y="2835.73" font-family="Liberation Sans, Arial, Helvetica, sans-serif" font-size="33" font-weight="normal" text-anchor="middle" letter-spacing="1">**</text>
<line x1="889.00" y1="2864.50" x2="938.50" y2="2864.50" stroke="#000" stroke-width="3.2" stroke-linecap="butt"/>
<text x="914.30" y="2863.23" font-family="Liberation Sans, Arial, Helvetica, sans-serif" font-size="33" font-weight="normal" text-anchor="middle" letter-spacing="1">**</text>
<line x1="1029.00" y1="2864.50" x2="1077.50" y2="2864.50" stroke="#000" stroke-width="3.2" stroke-linecap="butt"/>
<text x="1053.80" y="2862.73" font-family="Liberation Sans, Arial, Helvetica, sans-serif" font-size="33" font-weight="normal" text-anchor="middle" letter-spacing="1">*</text>
<line x1="1167.50" y1="2935.50" x2="1218.00" y2="2935.50" stroke="#000" stroke-width="3.2" stroke-linecap="butt"/>
<text x="1193.00" y="2935.73" font-family="Liberation Sans, Arial, Helvetica, sans-serif" font-size="33" font-weight="normal" text-anchor="middle" letter-spacing="1">**</text>
<line x1="286.80" y1="2624.20" x2="286.80" y2="3387.00" stroke="#000" stroke-width="6" stroke-linecap="butt"/>
<line x1="269.80" y1="2627.00" x2="289.80" y2="2627.00" stroke="#000" stroke-width="5.6" stroke-linecap="butt"/>
<text x="263.80" y="2639.92" font-family="Liberation Sans, Arial, Helvetica, sans-serif" font-size="32.3" font-weight="bold" text-anchor="end">2.0</text>
<line x1="269.80" y1="2816.20" x2="289.80" y2="2816.20" stroke="#000" stroke-width="5.6" stroke-linecap="butt"/>
<text x="263.80" y="2829.12" font-family="Liberation Sans, Arial, Helvetica, sans-serif" font-size="32.3" font-weight="bold" text-anchor="end">1.5</text>
<line x1="269.80" y1="3005.50" x2="289.80" y2="3005.50" stroke="#000" stroke-width="5.6" stroke-linecap="butt"/>
<text x="263.80" y="3018.42" font-family="Liberation Sans, Arial, Helvetica, sans-serif" font-size="32.3" font-weight="bold" text-anchor="end">1.0</text>
<line x1="269.80" y1="3194.80" x2="289.80" y2="3194.80" stroke="#000" stroke-width="5.6" stroke-linecap="butt"/>
<text x="263.80" y="3207.72" font-family="Liberation Sans, Arial, Helvetica, sans-serif" font-size="32.3" font-weight="bold" text-anchor="end">0.5</text>
<line x1="269.80" y1="3384.00" x2="289.80" y2="3384.00" stroke="#000" stroke-width="5.6" stroke-linecap="butt"/>
<text x="263.80" y="3396.92" font-family="Liberation Sans, Arial, Helvetica, sans-serif" font-size="32.3" font-weight="bold" text-anchor="end">0.0</text>
<line x1="269.80" y1="3384.00" x2="1255.00" y2="3384.00" stroke="#000" stroke-width="6" stroke-linecap="butt"/>
<line x1="351.60" y1="3384.00" x2="351.60" y2="3402.00" stroke="#000" stroke-width="5.6" stroke-linecap="butt"/>
<line x1="492.00" y1="3384.00" x2="492.00" y2="3402.00" stroke="#000" stroke-width="5.6" stroke-linecap="butt"/>
<line x1="632.40" y1="3384.00" x2="632.40" y2="3402.00" stroke="#000" stroke-width="5.6" stroke-linecap="butt"/>
<line x1="772.80" y1="3384.00" x2="772.80" y2="3402.00" stroke="#000" stroke-width="5.6" stroke-linecap="butt"/>
<line x1="913.20" y1="3384.00" x2="913.20" y2="3402.00" stroke="#000" stroke-width="5.6" stroke-linecap="butt"/>
<line x1="1053.60" y1="3384.00" x2="1053.60" y2="3402.00" stroke="#000" stroke-width="5.6" stroke-linecap="butt"/>
<line x1="1194.00" y1="3384.00" x2="1194.00" y2="3402.00" stroke="#000" stroke-width="5.6" stroke-linecap="butt"/>
<text x="363.10" y="3433.50" font-family="Liberation Sans, Arial, Helvetica, sans-serif" font-size="33.3" font-weight="bold" text-anchor="end" transform="rotate(-45 363.10 3433.50)">BCL2</text>
<text x="503.50" y="3433.50" font-family="Liberation Sans, Arial, Helvetica, sans-serif" font-size="33.3" font-weight="bold" text-anchor="end" transform="rotate(-45 503.50 3433.50)">WNT2</text>
<text x="643.90" y="3433.50" font-family="Liberation Sans, Arial, Helvetica, sans-serif" font-size="33.3" font-weight="bold" text-anchor="end" transform="rotate(-45 643.90 3433.50)">CCND1</text>
<text x="784.30" y="3433.50" font-family="Liberation Sans, Arial, Helvetica, sans-serif" font-size="33.3" font-weight="bold" text-anchor="end" transform="rotate(-45 784.30 3433.50)">SFRP2</text>
<text x="924.70" y="3433.50" font-family="Liberation Sans, Arial, Helvetica, sans-serif" font-size="33.3" font-weight="bold" text-anchor="end" transform="rotate(-45 924.70 3433.50)">TGF-β1</text>
<text x="1065.10" y="3433.50" font-family="Liberation Sans, Arial, Helvetica, sans-serif" font-size="33.3" font-weight="bold" text-anchor="end" transform="rotate(-45 1065.10 3433.50)">FGF2</text>
<text x="1205.50" y="3433.50" font-family="Liberation Sans, Arial, Helvetica, sans-serif" font-size="33.3" font-weight="bold" text-anchor="end" transform="rotate(-45 1205.50 3433.50)">LEF1</text>
<rect x="332.50" y="2609.50" width="43.50" height="21.00" fill="#000"/>
<text x="401.60" y="2631.00" font-family="Liberation Sans, Arial, Helvetica, sans-serif" font-size="33.1" font-weight="bold" text-anchor="start">miR-129-5p mimics</text>
<rect x="334.15" y="2666.65" width="40.20" height="17.70" fill="#fff" stroke="#000" stroke-width="3.3"/>
<text x="401.60" y="2686.50" font-family="Liberation Sans, Arial, Helvetica, sans-serif" font-size="33.1" font-weight="bold" text-anchor="start">miR-129-5p mimics NC</text>
<text x="196.32" y="3005.00" font-family="Liberation Sans, Arial, Helvetica, sans-serif" font-size="33.3" font-weight="bold" text-anchor="middle" transform="rotate(-90 196.32 3005.00)">Relative expression of mRNA</text>
<line x1="1599.50" y1="2921.00" x2="1599.50" y2="2954.00" stroke="#000" stroke-width="2.8" stroke-linecap="butt"/>
<line x1="1563.50" y1="2921.00" x2="1635.50" y2="2921.00" stroke="#000" stroke-width="2.8" stroke-linecap="butt"/>
<line x1="1824.50" y1="3303.00" x2="1824.50" y2="3311.00" stroke="#000" stroke-width="2.8" stroke-linecap="butt"/>
<line x1="1788.50" y1="3303.00" x2="1860.50" y2="3303.00" stroke="#000" stroke-width="2.8" stroke-linecap="butt"/>
<rect x="1525.00" y="2953.00" width="149.00" height="433.80" fill="#000"/>
<rect x="1751.50" y="3310.00" width="146.00" height="76.80" fill="#fff" stroke="#000" stroke-width="3"/>
<line x1="1600.00" y1="2896.00" x2="1823.00" y2="2896.00" stroke="#000" stroke-width="2.8" stroke-linecap="butt"/>
<text x="1710.75" y="2889.44" font-family="Liberation Sans, Arial, Helvetica, sans-serif" font-size="34" font-weight="normal" text-anchor="middle" letter-spacing="1.5">**</text>
<rect x="1524.00" y="3239.00" width="151.00" height="31.00" fill="#fff"/>
<line x1="1449.20" y1="2806.90" x2="1449.20" y2="3241.00" stroke="#000" stroke-width="4.2" stroke-linecap="butt"/>
<line x1="1449.20" y1="3268.00" x2="1449.20" y2="3388.90" stroke="#000" stroke-width="4.2" stroke-linecap="butt"/>
<line x1="1438.70" y1="3232.00" x2="1459.70" y2="3252.00" stroke="#000" stroke-width="3.3" stroke-linecap="butt"/>
<line x1="1438.70" y1="3259.00" x2="1459.70" y2="3279.00" stroke="#000" stroke-width="3.3" stroke-linecap="butt"/>
<line x1="1432.20" y1="2809.00" x2="1451.30" y2="2809.00" stroke="#000" stroke-width="4.2" stroke-linecap="butt"/>
<text x="1427.20" y="2820.38" font-family="Liberation Sans, Arial, Helvetica, sans-serif" font-size="31.8" font-weight="bold" text-anchor="end">2000</text>
<line x1="1432.20" y1="2953.00" x2="1451.30" y2="2953.00" stroke="#000" stroke-width="4.2" stroke-linecap="butt"/>
<text x="1427.20" y="2964.38" font-family="Liberation Sans, Arial, Helvetica, sans-serif" font-size="31.8" font-weight="bold" text-anchor="end">1500</text>
<line x1="1432.20" y1="3096.00" x2="1451.30" y2="3096.00" stroke="#000" stroke-width="4.2" stroke-linecap="butt"/>
<text x="1427.20" y="3107.38" font-family="Liberation Sans, Arial, Helvetica, sans-serif" font-size="31.8" font-weight="bold" text-anchor="end">1000</text>
<text x="1427.20" y="3250.38" font-family="Liberation Sans, Arial, Helvetica, sans-serif" font-size="31.8" font-weight="bold" text-anchor="end">500</text>
<text x="1427.20" y="3283.38" font-family="Liberation Sans, Arial, Helvetica, sans-serif" font-size="31.8" font-weight="bold" text-anchor="end">1.5</text>
<line x1="1432.20" y1="3309.50" x2="1451.30" y2="3309.50" stroke="#000" stroke-width="4.2" stroke-linecap="butt"/>
<text x="1427.20" y="3320.88" font-family="Liberation Sans, Arial, Helvetica, sans-serif" font-size="31.8" font-weight="bold" text-anchor="end">1.0</text>
<line x1="1432.20" y1="3348.00" x2="1451.30" y2="3348.00" stroke="#000" stroke-width="4.2" stroke-linecap="butt"/>
<text x="1427.20" y="3359.38" font-family="Liberation Sans, Arial, Helvetica, sans-serif" font-size="31.8" font-weight="bold" text-anchor="end">0.5</text>
<line x1="1432.20" y1="3386.80" x2="1451.30" y2="3386.80" stroke="#000" stroke-width="4.2" stroke-linecap="butt"/>
<text x="1427.20" y="3398.18" font-family="Liberation Sans, Arial, Helvetica, sans-serif" font-size="31.8" font-weight="bold" text-anchor="end">0.0</text>
<line x1="1432.20" y1="3386.80" x2="1947.00" y2="3386.80" stroke="#000" stroke-width="4.2" stroke-linecap="butt"/>
<rect x="1479.40" y="2743.00" width="45.60" height="23.20" fill="#000"/>
<text x="1551.60" y="2768.00" font-family="Liberation Sans, Arial, Helvetica, sans-serif" font-size="34" font-weight="normal" text-anchor="start">miR-129-5p mimics</text>
<rect x="1481.30" y="2802.30" width="41.80" height="18.60" fill="#fff" stroke="#000" stroke-width="3.8"/>
<text x="1551.60" y="2824.30" font-family="Liberation Sans, Arial, Helvetica, sans-serif" font-size="34" font-weight="normal" text-anchor="start">miR-129-5p mimics NC</text>
<text x="1335.03" y="3098.00" font-family="Liberation Sans, Arial, Helvetica, sans-serif" font-size="34.1" font-weight="bold" text-anchor="middle" transform="rotate(-90 1335.03 3098.00)">Relative expression of miR-129-5p</text>
<text x="49.00" y="3654.20" font-family="Liberation Serif, Times New Roman, serif" font-size="62" font-weight="normal" text-anchor="start" letter-spacing="1.9">(d)</text>
<line x1="326.65" y1="3844.50" x2="326.65" y2="3929.50" stroke="#000" stroke-width="3.3" stroke-linecap="butt"/>
<line x1="317.15" y1="3844.50" x2="336.15" y2="3844.50" stroke="#000" stroke-width="3.3" stroke-linecap="butt"/>
<line x1="376.90" y1="4108.00" x2="376.90" y2="4140.00" stroke="#000" stroke-width="3.3" stroke-linecap="butt"/>
<line x1="367.40" y1="4108.00" x2="386.40" y2="4108.00" stroke="#000" stroke-width="3.3" stroke-linecap="butt"/>
<rect x="307.30" y="3928.50" width="38.70" height="588.50" fill="#000"/>
<rect x="359.40" y="4139.00" width="35.00" height="378.00" fill="#fff" stroke="#000" stroke-width="3.6"/>
<line x1="467.05" y1="3958.50" x2="467.05" y2="3997.50" stroke="#000" stroke-width="3.3" stroke-linecap="butt"/>
<line x1="457.55" y1="3958.50" x2="476.55" y2="3958.50" stroke="#000" stroke-width="3.3" stroke-linecap="butt"/>
<line x1="517.30" y1="4084.50" x2="517.30" y2="4140.00" stroke="#000" stroke-width="3.3" stroke-linecap="butt"/>
<line x1="507.80" y1="4084.50" x2="526.80" y2="4084.50" stroke="#000" stroke-width="3.3" stroke-linecap="butt"/>
<rect x="447.70" y="3996.50" width="38.70" height="520.50" fill="#000"/>
<rect x="499.80" y="4139.00" width="35.00" height="378.00" fill="#fff" stroke="#000" stroke-width="3.6"/>
<line x1="607.45" y1="4058.00" x2="607.45" y2="4075.00" stroke="#000" stroke-width="3.3" stroke-linecap="butt"/>
<line x1="597.95" y1="4058.00" x2="616.95" y2="4058.00" stroke="#000" stroke-width="3.3" stroke-linecap="butt"/>
<line x1="657.70" y1="4114.50" x2="657.70" y2="4140.00" stroke="#000" stroke-width="3.3" stroke-linecap="butt"/>
<line x1="648.20" y1="4114.50" x2="667.20" y2="4114.50" stroke="#000" stroke-width="3.3" stroke-linecap="butt"/>
<rect x="588.10" y="4074.00" width="38.70" height="443.00" fill="#000"/>
<rect x="640.20" y="4139.00" width="35.00" height="378.00" fill="#fff" stroke="#000" stroke-width="3.6"/>
<line x1="747.85" y1="4185.00" x2="747.85" y2="4203.00" stroke="#000" stroke-width="3.3" stroke-linecap="butt"/>
<line x1="738.35" y1="4185.00" x2="757.35" y2="4185.00" stroke="#000" stroke-width="3.3" stroke-linecap="butt"/>
<line x1="798.10" y1="4110.00" x2="798.10" y2="4140.00" stroke="#000" stroke-width="3.3" stroke-linecap="butt"/>
<line x1="788.60" y1="4110.00" x2="807.60" y2="4110.00" stroke="#000" stroke-width="3.3" stroke-linecap="butt"/>
<rect x="728.50" y="4202.00" width="38.70" height="315.00" fill="#000"/>
<rect x="780.60" y="4139.00" width="35.00" height="378.00" fill="#fff" stroke="#000" stroke-width="3.6"/>
<line x1="888.25" y1="4188.50" x2="888.25" y2="4229.00" stroke="#000" stroke-width="3.3" stroke-linecap="butt"/>
<line x1="878.75" y1="4188.50" x2="897.75" y2="4188.50" stroke="#000" stroke-width="3.3" stroke-linecap="butt"/>
<line x1="938.50" y1="4118.50" x2="938.50" y2="4140.00" stroke="#000" stroke-width="3.3" stroke-linecap="butt"/>
<line x1="929.00" y1="4118.50" x2="948.00" y2="4118.50" stroke="#000" stroke-width="3.3" stroke-linecap="butt"/>
<rect x="868.90" y="4228.00" width="38.70" height="289.00" fill="#000"/>
<rect x="921.00" y="4139.00" width="35.00" height="378.00" fill="#fff" stroke="#000" stroke-width="3.6"/>
<line x1="1028.65" y1="4300.00" x2="1028.65" y2="4322.00" stroke="#000" stroke-width="3.3" stroke-linecap="butt"/>
<line x1="1019.15" y1="4300.00" x2="1038.15" y2="4300.00" stroke="#000" stroke-width="3.3" stroke-linecap="butt"/>
<line x1="1078.90" y1="4121.00" x2="1078.90" y2="4140.00" stroke="#000" stroke-width="3.3" stroke-linecap="butt"/>
<line x1="1069.40" y1="4121.00" x2="1088.40" y2="4121.00" stroke="#000" stroke-width="3.3" stroke-linecap="butt"/>
<rect x="1009.30" y="4321.00" width="38.70" height="196.00" fill="#000"/>
<rect x="1061.40" y="4139.00" width="35.00" height="378.00" fill="#fff" stroke="#000" stroke-width="3.6"/>
<line x1="1169.05" y1="3995.50" x2="1169.05" y2="4036.50" stroke="#000" stroke-width="3.3" stroke-linecap="butt"/>
<line x1="1159.55" y1="3995.50" x2="1178.55" y2="3995.50" stroke="#000" stroke-width="3.3" stroke-linecap="butt"/>
<line x1="1219.30" y1="4112.50" x2="1219.30" y2="4140.00" stroke="#000" stroke-width="3.3" stroke-linecap="butt"/>
<line x1="1209.80" y1="4112.50" x2="1228.80" y2="4112.50" stroke="#000" stroke-width="3.3" stroke-linecap="butt"/>
<rect x="1149.70" y="4035.50" width="38.70" height="481.50" fill="#000"/>
<rect x="1201.80" y="4139.00" width="35.00" height="378.00" fill="#fff" stroke="#000" stroke-width="3.6"/>
<line x1="327.50" y1="3823.00" x2="378.00" y2="3823.00" stroke="#000" stroke-width="3.2" stroke-linecap="butt"/>
<text x="352.50" y="3812.73" font-family="Liberation Sans, Arial, Helvetica, sans-serif" font-size="33" font-weight="normal" text-anchor="middle" letter-spacing="1">**</text>
<line x1="464.00" y1="3933.00" x2="514.00" y2="3933.00" stroke="#000" stroke-width="3.2" stroke-linecap="butt"/>
<text x="490.00" y="3927.43" font-family="Liberation Sans, Arial, Helvetica, sans-serif" font-size="33" font-weight="normal" text-anchor="middle" letter-spacing="1">**</text>
<line x1="607.50" y1="4041.50" x2="658.00" y2="4041.50" stroke="#000" stroke-width="3.2" stroke-linecap="butt"/>
<text x="632.00" y="4035.23" font-family="Liberation Sans, Arial, Helvetica, sans-serif" font-size="33" font-weight="normal" text-anchor="middle" letter-spacing="1">**</text>
<line x1="748.00" y1="4088.50" x2="798.50" y2="4088.50" stroke="#000" stroke-width="3.2" stroke-linecap="butt"/>
<text x="773.50" y="4083.23" font-family="Liberation Sans, Arial, Helvetica, sans-serif" font-size="33" font-weight="normal" text-anchor="middle" letter-spacing="1">*</text>
<line x1="886.00" y1="4098.50" x2="936.00" y2="4098.50" stroke="#000" stroke-width="3.2" stroke-linecap="butt"/>
<text x="911.80" y="4090.73" font-family="Liberation Sans, Arial, Helvetica, sans-serif" font-size="33" font-weight="normal" text-anchor="middle" letter-spacing="1">**</text>
<line x1="1027.50" y1="4098.50" x2="1078.50" y2="4098.50" stroke="#000" stroke-width="3.2" stroke-linecap="butt"/>
<text x="1057.50" y="4090.73" font-family="Liberation Sans, Arial, Helvetica, sans-serif" font-size="33" font-weight="normal" text-anchor="middle" letter-spacing="1">**</text>
<line x1="1169.00" y1="3967.50" x2="1221.00" y2="3967.50" stroke="#000" stroke-width="3.2" stroke-linecap="butt"/>
<text x="1196.00" y="3963.23" font-family="Liberation Sans, Arial, Helvetica, sans-serif" font-size="33" font-weight="normal" text-anchor="middle" letter-spacing="1">**</text>
<line x1="286.80" y1="3756.20" x2="286.80" y2="4520.00" stroke="#000" stroke-width="6" stroke-linecap="butt"/>
<line x1="269.80" y1="3759.00" x2="289.80" y2="3759.00" stroke="#000" stroke-width="5.6" stroke-linecap="butt"/>
<text x="263.80" y="3771.92" font-family="Liberation Sans, Arial, Helvetica, sans-serif" font-size="32.3" font-weight="bold" text-anchor="end">2.0</text>
<line x1="269.80" y1="3948.50" x2="289.80" y2="3948.50" stroke="#000" stroke-width="5.6" stroke-linecap="butt"/>
<text x="263.80" y="3961.42" font-family="Liberation Sans, Arial, Helvetica, sans-serif" font-size="32.3" font-weight="bold" text-anchor="end">1.5</text>
<line x1="269.80" y1="4138.00" x2="289.80" y2="4138.00" stroke="#000" stroke-width="5.6" stroke-linecap="butt"/>
<text x="263.80" y="4150.92" font-family="Liberation Sans, Arial, Helvetica, sans-serif" font-size="32.3" font-weight="bold" text-anchor="end">1.0</text>
<line x1="269.80" y1="4327.50" x2="289.80" y2="4327.50" stroke="#000" stroke-width="5.6" stroke-linecap="butt"/>
<text x="263.80" y="4340.42" font-family="Liberation Sans, Arial, Helvetica, sans-serif" font-size="32.3" font-weight="bold" text-anchor="end">0.5</text>
<line x1="269.80" y1="4517.00" x2="289.80" y2="4517.00" stroke="#000" stroke-width="5.6" stroke-linecap="butt"/>
<text x="263.80" y="4529.92" font-family="Liberation Sans, Arial, Helvetica, sans-serif" font-size="32.3" font-weight="bold" text-anchor="end">0.0</text>
<line x1="269.80" y1="4517.00" x2="1255.00" y2="4517.00" stroke="#000" stroke-width="6" stroke-linecap="butt"/>
<line x1="351.60" y1="4517.00" x2="351.60" y2="4535.00" stroke="#000" stroke-width="5.6" stroke-linecap="butt"/>
<line x1="492.00" y1="4517.00" x2="492.00" y2="4535.00" stroke="#000" stroke-width="5.6" stroke-linecap="butt"/>
<line x1="632.40" y1="4517.00" x2="632.40" y2="4535.00" stroke="#000" stroke-width="5.6" stroke-linecap="butt"/>
<line x1="772.80" y1="4517.00" x2="772.80" y2="4535.00" stroke="#000" stroke-width="5.6" stroke-linecap="butt"/>
<line x1="913.20" y1="4517.00" x2="913.20" y2="4535.00" stroke="#000" stroke-width="5.6" stroke-linecap="butt"/>
<line x1="1053.60" y1="4517.00" x2="1053.60" y2="4535.00" stroke="#000" stroke-width="5.6" stroke-linecap="butt"/>
<line x1="1194.00" y1="4517.00" x2="1194.00" y2="4535.00" stroke="#000" stroke-width="5.6" stroke-linecap="butt"/>
<text x="363.10" y="4566.50" font-family="Liberation Sans, Arial, Helvetica, sans-serif" font-size="33.3" font-weight="bold" text-anchor="end" transform="rotate(-45 363.10 4566.50)">BCL2</text>
<text x="503.50" y="4566.50" font-family="Liberation Sans, Arial, Helvetica, sans-serif" font-size="33.3" font-weight="bold" text-anchor="end" transform="rotate(-45 503.50 4566.50)">WNT2</text>
<text x="643.90" y="4566.50" font-family="Liberation Sans, Arial, Helvetica, sans-serif" font-size="33.3" font-weight="bold" text-anchor="end" transform="rotate(-45 643.90 4566.50)">CCND1</text>
<text x="784.30" y="4566.50" font-family="Liberation Sans, Arial, Helvetica, sans-serif" font-size="33.3" font-weight="bold" text-anchor="end" transform="rotate(-45 784.30 4566.50)">SFRP2</text>
<text x="924.70" y="4566.50" font-family="Liberation Sans, Arial, Helvetica, sans-serif" font-size="33.3" font-weight="bold" text-anchor="end" transform="rotate(-45 924.70 4566.50)">TGF-β1</text>
<text x="1065.10" y="4566.50" font-family="Liberation Sans, Arial, Helvetica, sans-serif" font-size="33.3" font-weight="bold" text-anchor="end" transform="rotate(-45 1065.10 4566.50)">FGF2</text>
<text x="1205.50" y="4566.50" font-family="Liberation Sans, Arial, Helvetica, sans-serif" font-size="33.3" font-weight="bold" text-anchor="end" transform="rotate(-45 1205.50 4566.50)">LEF1</text>
<rect x="316.00" y="3679.00" width="43.00" height="21.00" fill="#000"/>
<text x="386.00" y="3701.50" font-family="Liberation Sans, Arial, Helvetica, sans-serif" font-size="33.1" font-weight="bold" text-anchor="start">miR-129-5p inhibitor</text>
<rect x="317.65" y="3736.65" width="39.70" height="17.70" fill="#fff" stroke="#000" stroke-width="3.3"/>
<text x="386.00" y="3757.00" font-family="Liberation Sans, Arial, Helvetica, sans-serif" font-size="33.1" font-weight="bold" text-anchor="start">miR-129-5p inhibitor NC</text>
<text x="196.32" y="4134.00" font-family="Liberation Sans, Arial, Helvetica, sans-serif" font-size="33.3" font-weight="bold" text-anchor="middle" transform="rotate(-90 196.32 4134.00)">Relative expression of mRNA</text>
<line x1="1612.25" y1="4199.00" x2="1612.25" y2="4226.00" stroke="#000" stroke-width="3.8" stroke-linecap="butt"/>
<line x1="1574.25" y1="4199.00" x2="1650.25" y2="4199.00" stroke="#000" stroke-width="3.8" stroke-linecap="butt"/>
<line x1="1848.00" y1="4025.00" x2="1848.00" y2="4088.00" stroke="#000" stroke-width="3.8" stroke-linecap="butt"/>
<line x1="1810.00" y1="4025.00" x2="1886.00" y2="4025.00" stroke="#000" stroke-width="3.8" stroke-linecap="butt"/>
<rect x="1534.00" y="4225.00" width="156.50" height="287.00" fill="#000"/>
<rect x="1771.50" y="4087.00" width="153.00" height="425.00" fill="#fff" stroke="#000" stroke-width="4"/>
<line x1="1603.00" y1="3997.00" x2="1843.00" y2="3997.00" stroke="#000" stroke-width="3.6" stroke-linecap="butt"/>
<text x="1720.50" y="3982.60" font-family="Liberation Sans, Arial, Helvetica, sans-serif" font-size="46" font-weight="normal" text-anchor="middle" letter-spacing="3">**</text>
<line x1="1456.00" y1="3869.70" x2="1456.00" y2="4514.30" stroke="#000" stroke-width="4.6" stroke-linecap="butt"/>
<line x1="1436.50" y1="3872.00" x2="1458.30" y2="3872.00" stroke="#000" stroke-width="4.6" stroke-linecap="butt"/>
<text x="1431.50" y="3885.67" font-family="Liberation Sans, Arial, Helvetica, sans-serif" font-size="35.5" font-weight="bold" text-anchor="end">1.5</text>
<line x1="1436.50" y1="4085.30" x2="1458.30" y2="4085.30" stroke="#000" stroke-width="4.6" stroke-linecap="butt"/>
<text x="1431.50" y="4098.97" font-family="Liberation Sans, Arial, Helvetica, sans-serif" font-size="35.5" font-weight="bold" text-anchor="end">1.0</text>
<line x1="1436.50" y1="4298.70" x2="1458.30" y2="4298.70" stroke="#000" stroke-width="4.6" stroke-linecap="butt"/>
<text x="1431.50" y="4312.37" font-family="Liberation Sans, Arial, Helvetica, sans-serif" font-size="35.5" font-weight="bold" text-anchor="end">0.5</text>
<line x1="1436.50" y1="4512.00" x2="1458.30" y2="4512.00" stroke="#000" stroke-width="4.6" stroke-linecap="butt"/>
<text x="1431.50" y="4525.67" font-family="Liberation Sans, Arial, Helvetica, sans-serif" font-size="35.5" font-weight="bold" text-anchor="end">0.0</text>
<line x1="1436.50" y1="4512.00" x2="2005.00" y2="4512.00" stroke="#000" stroke-width="4.6" stroke-linecap="butt"/>
<rect x="1502.00" y="3806.20" width="50.40" height="24.50" fill="#000"/>
<text x="1581.50" y="3833.00" font-family="Liberation Sans, Arial, Helvetica, sans-serif" font-size="37.5" font-weight="normal" text-anchor="start">miR-129-5p inhibitor</text>
<rect x="1504.25" y="3870.85" width="45.90" height="21.70" fill="#fff" stroke="#000" stroke-width="4.5"/>
<text x="1581.50" y="3895.70" font-family="Liberation Sans, Arial, Helvetica, sans-serif" font-size="37.5" font-weight="normal" text-anchor="start">miR-129-5p inhibitor NC</text>
<text x="1364.15" y="4192.00" font-family="Liberation Sans, Arial, Helvetica, sans-serif" font-size="38.6" font-weight="bold" text-anchor="middle" transform="rotate(-90 1364.15 4192.00)">Relative expression of miR-129-5p</text>
</svg>
</body></html>
